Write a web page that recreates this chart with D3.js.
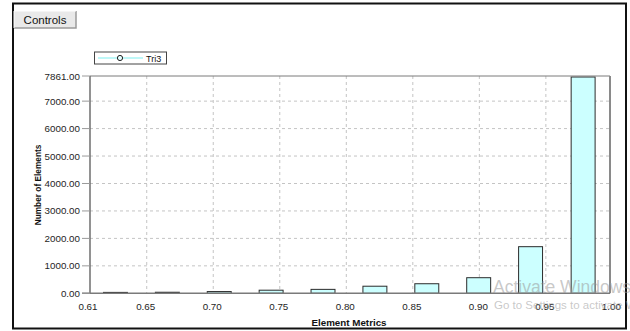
<!DOCTYPE html>
<html>
<head>
<meta charset="utf-8">
<script src="https://cdn.jsdelivr.net/npm/d3@7/dist/d3.min.js"></script>
<style>
  html, body { margin: 0; padding: 0; background: #fff; }
  svg { display: block; }
  text { font-family: "Liberation Sans", Arial, sans-serif; }
</style>
</head>
<body>
<svg id="chart" width="630" height="331"></svg>
<script>
// Histogram bins (centre of each bin) and element counts for Tri3 elements
const binCenters = [0.6265, 0.6655, 0.7045, 0.7435, 0.7825, 0.8215, 0.8605, 0.8995, 0.9385, 0.978];
const counts     = [15, 20, 45, 95, 125, 240, 330, 550, 1680, 7861];
const binWidth   = 0.018;

// Axis ticks
const xTicks = [0.65, 0.70, 0.75, 0.80, 0.85, 0.90, 0.95, 1.00];
const xMinLabel = 0.61;
const yTicks = [0, 1000, 2000, 3000, 4000, 5000, 6000, 7000, 7861];
const yMax = 7861;

const seriesName = "Tri3";

const svg = d3.select("#chart");

// plot frame
const frame = { left: 90, right: 610, top: 76, bottom: 293.3 };

const x = d3.scaleLinear().domain([0.61, 1.00]).range([93.5, 612.4]);
const y = d3.scaleLinear().domain([0, yMax]).range([frame.bottom, 77.5]);

// outer window border
svg.append("rect")
  .attr("x", 13).attr("y", 3.5).attr("width", 613).attr("height", 325)
  .attr("fill", "#fff").attr("stroke", "#111").attr("stroke-width", 2);

// Controls button
svg.append("rect")
  .attr("x", 14).attr("y", 11).attr("width", 62).attr("height", 17)
  .attr("fill", "#e9e9e9");
svg.append("path")
  .attr("d", "M76,11 V28 H14")
  .attr("fill", "none").attr("stroke", "#9a9a9a").attr("stroke-width", 1.5);
svg.append("path")
  .attr("d", "M14,28 V11 H76")
  .attr("fill", "none").attr("stroke", "#ffffff").attr("stroke-width", 1);
svg.append("text")
  .attr("x", 45).attr("y", 23.5).attr("text-anchor", "middle")
  .attr("font-size", 11.5).attr("fill", "#111")
  .text("Controls");

// gridlines
const grid = svg.append("g").attr("stroke", "#c4c4c4").attr("stroke-dasharray", "3,3").attr("stroke-width", 1);
grid.selectAll("line.v").data(xTicks.filter(d => x(d) < frame.right - 2)).join("line")
  .attr("x1", d => x(d)).attr("x2", d => x(d))
  .attr("y1", frame.top).attr("y2", frame.bottom);
grid.selectAll("line.h").data(yTicks.filter(d => d > 0 && d < yMax)).join("line")
  .attr("x1", frame.left).attr("x2", frame.right)
  .attr("y1", d => y(d)).attr("y2", d => y(d));

// bars
const barPx = x(binCenters[0] + binWidth / 2) - x(binCenters[0] - binWidth / 2);
svg.append("g").selectAll("rect").data(binCenters).join("rect")
  .attr("x", d => x(d) - barPx / 2)
  .attr("width", barPx)
  .attr("y", (d, i) => Math.max(y(counts[i]) - 0.5, frame.top))
  .attr("height", (d, i) => frame.bottom - Math.max(y(counts[i]) - 0.5, frame.top))
  .attr("fill", "#ccffff")
  .attr("stroke", "#2b2b2b")
  .attr("stroke-width", 1);

// frame lines
svg.append("line").attr("x1", frame.left).attr("x2", frame.right).attr("y1", frame.top).attr("y2", frame.top)
  .attr("stroke", "#7a7a7a").attr("stroke-width", 1);
svg.append("line").attr("x1", frame.right).attr("x2", frame.right).attr("y1", frame.top).attr("y2", frame.bottom)
  .attr("stroke", "#8a8a8a").attr("stroke-width", 2);
svg.append("line").attr("x1", frame.left).attr("x2", frame.left).attr("y1", frame.top).attr("y2", frame.bottom)
  .attr("stroke", "#6e6e6e").attr("stroke-width", 1.5);
svg.append("line").attr("x1", frame.left - 8).attr("x2", frame.right).attr("y1", frame.bottom).attr("y2", frame.bottom)
  .attr("stroke", "#7a7a7a").attr("stroke-width", 1.5);

// y axis ticks and labels
const yAxis = svg.append("g");
yAxis.selectAll("line").data(yTicks).join("line")
  .attr("x1", frame.left - 8).attr("x2", frame.left)
  .attr("y1", d => d === yMax ? frame.top : y(d))
  .attr("y2", d => d === yMax ? frame.top : y(d))
  .attr("stroke", "#9a9a9a").attr("stroke-width", 1);
yAxis.selectAll("text").data(yTicks).join("text")
  .attr("x", 80)
  .attr("y", d => (d === yMax ? frame.top : y(d)) + 3.5)
  .attr("text-anchor", "end")
  .attr("font-size", 9.8).attr("fill", "#1e1e1e")
  .text(d => d3.format(".2f")(d));

// x axis labels
const xAxis = svg.append("g");
xAxis.selectAll("text").data(xTicks).join("text")
  .attr("x", d => x(d) - 1)
  .attr("y", 309.5)
  .attr("text-anchor", "middle")
  .attr("font-size", 9.8).attr("fill", "#1e1e1e")
  .text(d => d3.format(".2f")(d));
xAxis.append("text")
  .attr("x", frame.left - 2).attr("y", 309.5)
  .attr("text-anchor", "middle")
  .attr("font-size", 9.8).attr("fill", "#1e1e1e")
  .text(d3.format(".2f")(xMinLabel));

// axis titles
svg.append("text")
  .attr("x", 349).attr("y", 325.5)
  .attr("text-anchor", "middle")
  .attr("font-size", 9.8).attr("font-weight", "bold").attr("fill", "#111")
  .text("Element Metrics");
svg.append("text")
  .attr("transform", "translate(40.5,185) rotate(-90)")
  .attr("text-anchor", "middle")
  .attr("font-size", 8.3).attr("font-weight", "bold").attr("fill", "#111")
  .text("Number of Elements");

// legend
const legend = svg.append("g");
legend.append("rect")
  .attr("x", 94.5).attr("y", 52).attr("width", 72).attr("height", 12)
  .attr("fill", "#fff").attr("stroke", "#444").attr("stroke-width", 1);
legend.append("line")
  .attr("x1", 98).attr("x2", 143).attr("y1", 58).attr("y2", 58)
  .attr("stroke", "#a8f4f4").attr("stroke-width", 1.5);
legend.append("circle")
  .attr("cx", 120).attr("cy", 58).attr("r", 2.6)
  .attr("fill", "#e6ffff").attr("stroke", "#222").attr("stroke-width", 1);
legend.append("text")
  .attr("x", 146).attr("y", 61.5)
  .attr("font-size", 9).attr("fill", "#111")
  .text(seriesName);

// system watermark over the lower right corner
const wm = svg.append("g").attr("fill", "#9a9a9a").attr("fill-opacity", 0.55)
  .style("font-family", "'Open Sans', 'Noto Sans', sans-serif");
wm.append("text").attr("x", 493).attr("y", 293).attr("font-size", 17.5).text("Activate Windows");
wm.append("text").attr("x", 494).attr("y", 309).attr("font-size", 11.5).text("Go to Settings to activate Windows.");
</script>
</body>
</html>
